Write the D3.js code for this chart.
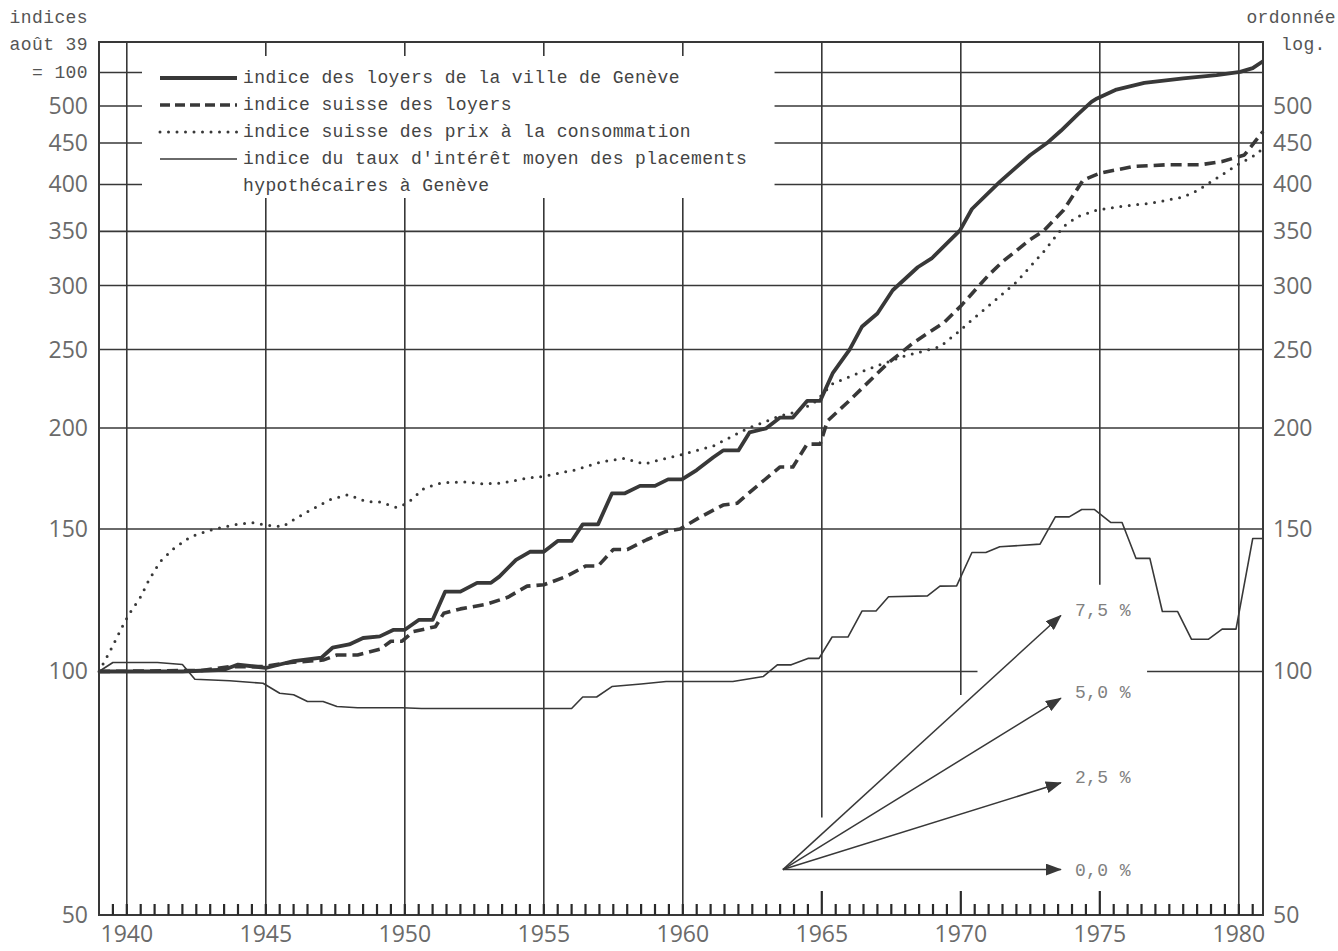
<!DOCTYPE html>
<html>
<head>
<meta charset="utf-8">
<script src="https://cdn.jsdelivr.net/npm/d3@7"></script>
<style>
  html, body { margin: 0; padding: 0; background: #fff; overflow: hidden; }
  svg { display: block; }
  .mono { font-family: "Liberation Mono", "DejaVu Sans Mono", monospace; font-size: 18px; letter-spacing: 0.4px; }
  .num { font-family: "Open Sans", "DejaVu Sans", sans-serif; font-size: 23px; fill: #6a6a6a; }
</style>
</head>
<body>
<script>
// indices, août 1939 = 100
var genevaRent = [[1939,100],[1942,100],[1943.5,100.5],[1944,102],[1944.5,101.5],[1945,101],[1945.5,102],[1946,103],[1946.5,103.5],[1947,104],[1947.4,107],[1948,108],[1948.5,110],[1949.1,110.5],[1949.6,112.6],[1950,112.6],[1950.5,115.8],[1951,115.8],[1951.45,125.5],[1952,125.5],[1952.6,128.7],[1953.1,128.7],[1953.4,131],[1954,137.4],[1954.5,140.6],[1955,140.6],[1955.5,145],[1956,145],[1956.4,152],[1956.95,152],[1957.45,166],[1957.9,166],[1958.46,169.6],[1959,169.6],[1959.47,172.8],[1959.97,172.8],[1960.5,177.4],[1961.1,184],[1961.45,187.6],[1962,187.6],[1962.4,197.5],[1963,199.8],[1963.5,206],[1963.96,206],[1964.47,216],[1964.94,216],[1965.4,234],[1966,250],[1966.45,267],[1967,277],[1967.55,296],[1968.45,316],[1968.95,324],[1969.97,351],[1970.4,373],[1971.4,403],[1972.5,435],[1973.1,450],[1973.6,466],[1974.2,488],[1974.7,506],[1974.9,511],[1975.6,524],[1976.6,534],[1978,541],[1979.2,546],[1980.05,551],[1980.5,557],[1980.87,568]];

var swissRent = [[1939,100],[1942.7,100.3],[1943.7,101.4],[1944.9,101.4],[1945.9,102.6],[1947.06,103.3],[1947.56,104.8],[1948.3,104.8],[1949.1,106.5],[1949.5,109],[1949.9,109],[1950.3,112],[1951.1,113.6],[1951.4,118],[1952,119.5],[1952.9,121],[1953.7,123.5],[1954.4,127.5],[1955,128],[1955.8,131],[1956.5,135],[1956.95,135],[1957.5,141.5],[1958,141.5],[1958.7,145.5],[1959.4,149],[1959.9,150],[1960.6,155],[1961.45,160.6],[1961.95,161.4],[1962.5,167.6],[1963.5,179],[1963.96,179],[1964.47,191],[1964.94,191],[1965.2,204],[1965.9,214.7],[1967.35,240],[1968.3,255],[1969.4,270],[1970,283],[1971,309],[1971.5,321],[1972.5,342],[1973,351],[1973.7,372],[1974.4,405],[1975,413],[1976.2,421],[1977.4,423],[1978.6,423],[1979.4,427],[1980.2,435],[1980.87,465]];

var consumerPrices = [[1939,100],[1939.4,106],[1939.9,114.7],[1940.1,118],[1940.5,123.7],[1940.8,129.8],[1941.2,136.7],[1941.7,142],[1942.3,146.8],[1943,149.5],[1943.8,151.7],[1944.5,152.8],[1945,151.7],[1945.6,151],[1946,154],[1946.5,157.6],[1947.3,163],[1947.96,165.4],[1948.6,162.2],[1949.1,162],[1949.7,159.5],[1950.1,161.5],[1950.7,168.5],[1951.3,171],[1952.1,171.6],[1952.8,170.6],[1953.5,171],[1954.4,173.4],[1955,174.3],[1956.1,177.4],[1957.1,181.7],[1957.9,183.4],[1958.6,180.5],[1959.4,183.4],[1960,185.5],[1961.1,190],[1962.3,199.5],[1963.5,207],[1964,209],[1964.7,214.5],[1965.4,227],[1966.6,236],[1967.9,245],[1969.25,252],[1969.86,262],[1970.4,272],[1971.05,284],[1972,303],[1973,331],[1973.7,355],[1974.2,365],[1974.9,372],[1975.8,376],[1976.8,379],[1978,386],[1978.5,393],[1979.1,405],[1980,424],[1980.7,437],[1980.87,445]];

var mortgageRate = [[1939,100],[1939.5,102.6],[1941.1,102.6],[1942,102],[1942.45,97.8],[1943.7,97.4],[1944.9,96.7],[1945.5,94],[1946,93.6],[1946.5,91.8],[1947.06,91.8],[1947.56,90.5],[1948.3,90.2],[1949.9,90.2],[1950.6,90],[1956,90],[1956.4,93],[1956.9,93],[1957.45,95.8],[1958.5,96.5],[1959.4,97.2],[1961.8,97.2],[1962.9,98.6],[1963.4,101.9],[1963.9,101.9],[1964.5,103.8],[1964.9,103.8],[1965.37,110.3],[1965.94,110.3],[1966.45,118.8],[1966.95,118.8],[1967.4,123.7],[1968.8,124],[1969.25,127.5],[1969.85,127.6],[1970.4,140.3],[1970.9,140.3],[1971.4,142.6],[1972.85,143.7],[1973.4,155.3],[1973.9,155.3],[1974.35,158.6],[1974.8,158.6],[1975.4,152.8],[1975.8,152.8],[1976.3,138],[1976.8,138],[1977.25,118.6],[1977.8,118.6],[1978.3,109.6],[1978.9,109.6],[1979.4,112.8],[1979.9,112.8],[1980.5,146],[1980.87,146]];

var legendLabels = [
  'indice des loyers de la ville de Genève',
  'indice suisse des loyers',
  'indice suisse des prix à la consommation',
  "indice du taux d'intérêt moyen des placements",
  'hypothécaires à Genève'
];

var yearTicks = [1940, 1945, 1950, 1955, 1960, 1965, 1970, 1975, 1980];
var valueTicks = [50, 100, 150, 200, 250, 300, 350, 400, 450, 500];
var gridValues = [100, 150, 200, 250, 300, 350, 400, 450, 500, 550];

// growth-rate arrows (% per year)
var rates = [0, 2.5, 5.0, 7.5];
var rateLabels = ['0,0 %', '2,5 %', '5,0 %', '7,5 %'];
var arrowStart = [1963.6, 56.9];
var arrowYears = 10;

var w = 1338,
    h = 951;
var ink = '#383838';

var svg = d3.select('body')
  .append('svg')
  .attr('width', w)
  .attr('height', h);

var x = d3.scaleLinear().domain([1939, 1980.87]).range([99, 1263]);
var y = d3.scaleLog().domain([50, 600]).range([915, 42]);

var plotLeft = x.range()[0], plotRight = x.range()[1],
    plotTop = y.range()[1], plotBottom = y.range()[0];

function seg(x1, y1, x2, y2, sw) {
  svg.append('line')
    .attr('x1', x1).attr('y1', y1).attr('x2', x2).attr('y2', y2)
    .attr('stroke', ink)
    .attr('stroke-width', sw || 1.6);
}

// frame
svg.append('rect')
  .attr('x', plotLeft).attr('y', plotTop)
  .attr('width', plotRight - plotLeft).attr('height', plotBottom - plotTop)
  .attr('fill', 'none')
  .attr('stroke', ink)
  .attr('stroke-width', 2);

// horizontal grid, with the gaps the original leaves for legend and arrows
gridValues.forEach(function(v) {
  var yy = y(v);
  if (v >= 400) {
    seg(plotLeft, yy, 142, yy);
    seg(x(1963.3), yy, plotRight, yy);
  } else if (v === 100) {
    seg(plotLeft, yy, x(1970.6), yy);
    seg(x(1976.7), yy, plotRight, yy);
  } else {
    seg(plotLeft, yy, plotRight, yy);
  }
});

// vertical grid
yearTicks.forEach(function(yr) {
  var xx = x(yr);
  if (yr === 1940 || yr === 1980) {
    seg(xx, plotTop, xx, plotBottom);
  } else if (yr <= 1960) {
    seg(xx, plotTop, xx, plotTop + 14);
    seg(xx, y(385), xx, plotBottom);
  } else {
    var stop = yr === 1965 ? y(66) : yr === 1970 ? y(93.5) : y(128);
    seg(xx, plotTop, xx, stop);
  }
});

// axis labels
svg.selectAll('.ylab-l')
  .data(valueTicks)
  .enter().append('text')
  .attr('class', 'num')
  .attr('x', 88)
  .attr('y', function(d) { return y(d) + 8; })
  .attr('text-anchor', 'end')
  .text(function(d) { return d; });

svg.selectAll('.ylab-r')
  .data(valueTicks)
  .enter().append('text')
  .attr('class', 'num')
  .attr('x', 1273)
  .attr('y', function(d) { return y(d) + 8; })
  .text(function(d) { return d; });

svg.selectAll('.xlab')
  .data(yearTicks)
  .enter().append('text')
  .attr('class', 'num')
  .attr('x', function(d) { return x(d); })
  .attr('y', 942)
  .attr('text-anchor', 'middle')
  .text(function(d) { return d; });

var corner = [
  ['indices', 88, 23, 'end'],
  ['août 39', 88, 50, 'end'],
  ['= 100', 88, 78, 'end'],
  ['ordonnée', 1336, 23, 'end'],
  ['log.', 1281, 50, 'start']
];
corner.forEach(function(c) {
  svg.append('text')
    .attr('class', 'mono')
    .attr('x', c[1]).attr('y', c[2])
    .attr('text-anchor', c[3])
    .attr('fill', '#555')
    .text(c[0]);
});

// series
var line = d3.line()
  .x(function(d) { return x(d[0]); })
  .y(function(d) { return y(d[1]); });

var styles = [
  { data: mortgageRate, sw: 1.6, dash: null },
  { data: consumerPrices, sw: 3, dash: '0,8.5' },
  { data: swissRent, sw: 3.6, dash: '11,6' },
  { data: genevaRent, sw: 3.8, dash: null }
];
styles.forEach(function(s) {
  svg.append('path')
    .attr('d', line(s.data))
    .attr('fill', 'none')
    .attr('stroke', ink)
    .attr('stroke-width', s.sw)
    .attr('stroke-linecap', s.dash && s.dash[0] === '0' ? 'round' : 'butt')
    .attr('stroke-linejoin', 'round')
    .attr('stroke-dasharray', s.dash);
});

// legend
var legendStyles = [
  { sw: 3.8, dash: null },
  { sw: 3.6, dash: '10,5' },
  { sw: 3, dash: '0,8.5' },
  { sw: 1.6, dash: null }
];
legendLabels.forEach(function(label, i) {
  var ly = 78 + i * 27;
  if (i < legendStyles.length) {
    var s = legendStyles[i];
    svg.append('line')
      .attr('x1', 160).attr('y1', ly).attr('x2', 237).attr('y2', ly)
      .attr('stroke', ink)
      .attr('stroke-width', s.sw)
      .attr('stroke-linecap', s.dash && s.dash[0] === '0' ? 'round' : 'butt')
      .attr('stroke-dasharray', s.dash);
  }
  svg.append('text')
    .attr('class', 'mono')
    .attr('x', 243)
    .attr('y', ly + 5)
    .attr('fill', '#444')
    .text(label);
});

// arrows for yearly growth rates
svg.append('defs').append('marker')
  .attr('id', 'head')
  .attr('viewBox', '0 0 16 12')
  .attr('refX', 15).attr('refY', 6)
  .attr('markerWidth', 16).attr('markerHeight', 12)
  .attr('markerUnits', 'userSpaceOnUse')
  .attr('orient', 'auto')
  .append('path')
  .attr('d', 'M0,0L16,6L0,12Z')
  .attr('fill', ink);

rates.forEach(function(r, i) {
  var endYear = arrowStart[0] + arrowYears;
  var endVal = arrowStart[1] * Math.pow(1 + r / 100, arrowYears);
  svg.append('line')
    .attr('x1', x(arrowStart[0])).attr('y1', y(arrowStart[1]))
    .attr('x2', x(endYear)).attr('y2', y(endVal))
    .attr('stroke', ink)
    .attr('stroke-width', 1.5)
    .attr('marker-end', 'url(#head)');
  svg.append('text')
    .attr('class', 'mono')
    .attr('x', x(endYear) + 14)
    .attr('y', y(endVal) + (r === 0 ? 6 : 0))
    .attr('fill', '#808080')
    .text(rateLabels[i]);
});

// half-year ticks along the bottom, longer stubs at 1965-1975
d3.range(1939.5, 1980.9, 0.5).forEach(function(t) {
  var len = (t === 1965 || t === 1970 || t === 1975) ? 24 : 11;
  svg.append('line')
    .attr('x1', x(t)).attr('x2', x(t))
    .attr('y1', plotBottom - len).attr('y2', plotBottom)
    .attr('stroke', '#2a2a2a')
    .attr('stroke-width', 2.2);
});
</script>
</body>
</html>
